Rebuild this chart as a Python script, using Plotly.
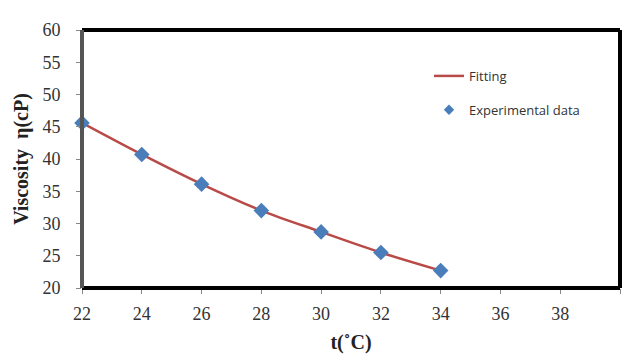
import plotly.graph_objects as go

temps = [22, 24, 26, 28, 30, 32, 34]
viscosity = [45.6, 40.7, 36.1, 32.0, 28.7, 25.5, 22.7]
x_ticks = [22, 24, 26, 28, 30, 32, 34, 36, 38, 40]
y_ticks = [20, 25, 30, 35, 40, 45, 50, 55, 60]

fig = go.Figure()
fig.add_trace(go.Scatter(
    x=temps, y=viscosity, mode="lines", name="Fitting",
    line=dict(color="#B84A47", width=2.5, shape="spline"),
    legendgroup="a",
))
fig.add_trace(go.Scatter(
    x=temps, y=viscosity, mode="markers", name="Experimental data",
    marker=dict(symbol="diamond", color="#4A7EBB", size=12),
    showlegend=False, cliponaxis=False,
))
# legend entry with the smaller legend marker
fig.add_trace(go.Scatter(
    x=[None], y=[None], mode="markers", name="Experimental data",
    marker=dict(symbol="diamond", color="#4A7EBB", size=8),
    legendgroup="b",
))

serif = "Liberation Serif, Times New Roman, serif"
fig.update_layout(
    width=623, height=358,
    margin=dict(l=82, r=3, t=30, b=70),
    paper_bgcolor="white", plot_bgcolor="white",
    showlegend=True,
    legend=dict(
        x=0.645, y=0.756, xanchor="left", yanchor="middle",
        font=dict(family="Open Sans, Liberation Sans, sans-serif", size=13, color="#333333"),
        bgcolor="rgba(0,0,0,0)", tracegroupgap=14,
        traceorder="grouped",
    ),
    xaxis=dict(
        range=[22, 40], tickvals=x_ticks, ticktext=[str(v) for v in x_ticks],
        showgrid=False, zeroline=False, showline=False, automargin=False,
        ticks="outside", ticklen=5, tickcolor="#888888", ticklabelstandoff=4,
        tickfont=dict(family=serif, size=18, color="#333333"),
        title=dict(text="<b>t(˚C)</b>", font=dict(family=serif, size=20, color="#222222"), standoff=12),
    ),
    yaxis=dict(
        range=[20, 60], tickvals=y_ticks,
        showgrid=False, zeroline=False, showline=False, automargin=False,
        ticks="outside", ticklen=5, tickcolor="#888888", ticklabelstandoff=12,
        tickfont=dict(family=serif, size=18, color="#333333"),
        title=dict(text="<b>Viscosity  η(cP)</b>", font=dict(family=serif, size=20, color="#222222"), standoff=8),
    ),
)

# frame
fig.add_shape(type="line", xref="paper", yref="paper", x0=0, x1=1, y0=1, y1=1,
              line=dict(color="black", width=4))
fig.add_shape(type="line", xref="paper", yref="paper", x0=1, x1=1, y0=0, y1=1,
              line=dict(color="black", width=4))
fig.add_shape(type="line", xref="paper", yref="paper", x0=0, x1=1, y0=0, y1=0,
              line=dict(color="black", width=4))
fig.add_shape(type="line", xref="paper", yref="paper", x0=0, x1=0, y0=0, y1=1,
              line=dict(color="#555555", width=4))

fig.write_html(
    "out.html",
    config={"displayModeBar": False},
    post_script="document.body.style.margin='0';document.body.style.overflow='hidden';",
)
